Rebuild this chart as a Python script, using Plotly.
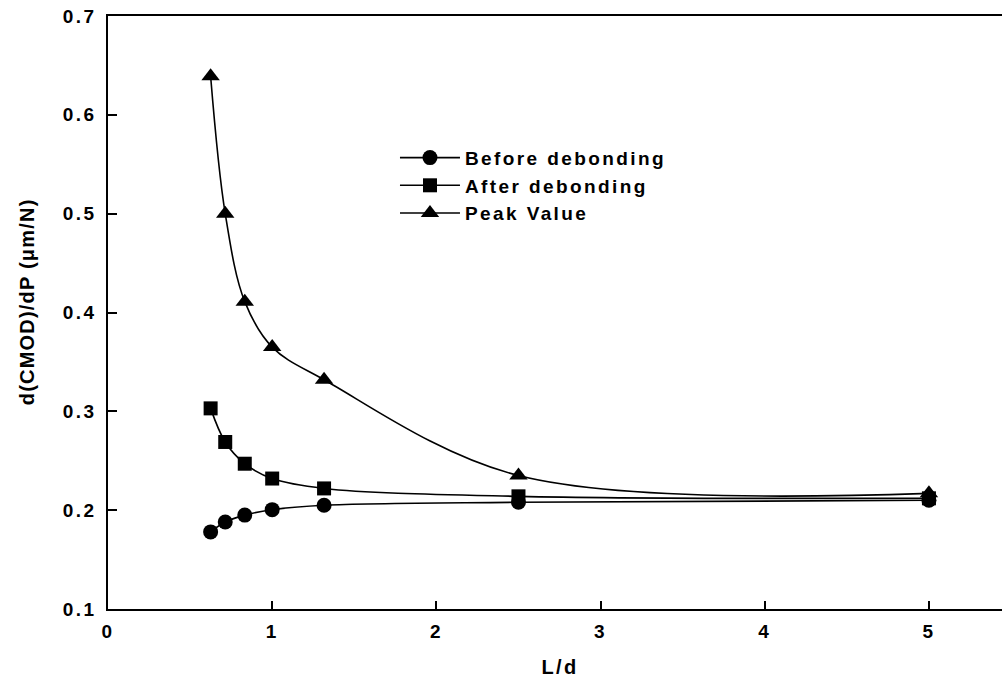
import plotly.graph_objects as go

# Slenderness ratio L/d and compliance values
ld_ratio = [0.625, 0.714, 0.833, 1.0, 1.316, 2.5, 5.0]
before_debonding = [0.178, 0.188, 0.195, 0.2005, 0.205, 0.208, 0.210]
after_debonding = [0.303, 0.269, 0.247, 0.232, 0.222, 0.214, 0.212]
peak_value = [0.639, 0.500, 0.411, 0.365, 0.332, 0.235, 0.217]

x_ticks = [0, 1, 2, 3, 4, 5]
y_ticks = [0.1, 0.2, 0.3, 0.4, 0.5, 0.6, 0.7]

FONT = "Liberation Sans, Arial, Helvetica, sans-serif"

series = [
    ("Before debonding", before_debonding, "circle", 15),
    ("After debonding", after_debonding, "square", 14),
    ("Peak Value", peak_value, "triangle-up", 16),
]

fig = go.Figure()
for name, vals, sym, size in series:
    fig.add_trace(go.Scatter(
        x=ld_ratio, y=vals, name=name, mode="lines+markers",
        line=dict(color="black", width=1.6, shape="spline", smoothing=1),
        marker=dict(symbol=sym, size=size, color="black"),
    ))

axis_font = dict(family=FONT, size=19, color="black", weight="bold")

fig.update_layout(
    width=1002, height=689,
    margin=dict(l=108, r=0, t=16, b=80),
    plot_bgcolor="white", paper_bgcolor="white",
    showlegend=True,
    legend=dict(
        x=0.321, y=0.793, xanchor="left", yanchor="top",
        font=dict(family=FONT, size=19, color="black", weight="bold"),
        bgcolor="rgba(0,0,0,0)", itemwidth=60, tracegroupgap=0,
    ),
    xaxis=dict(
        range=[0, 5.445], tickvals=x_ticks, ticktext=[str(v) for v in x_ticks],
        ticks="inside", ticklen=8, tickwidth=1.5, tickcolor="black",
        showline=True, linecolor="black", linewidth=1.5, mirror=True,
        showgrid=False, zeroline=False, tickfont=axis_font, ticklabelstandoff=4,
    ),
    yaxis=dict(
        range=[0.1, 0.7], tickvals=y_ticks, ticktext=[f"{v:.1f}" for v in y_ticks],
        ticks="inside", ticklen=9, tickwidth=1.5, tickcolor="black",
        showline=True, linecolor="black", linewidth=1.5, mirror=False,
        showgrid=False, zeroline=False, tickfont=axis_font, ticklabelstandoff=6,
    ),
    annotations=[
        dict(text="L/d", xref="x", yref="paper", x=2.75, y=(609 - 667) / 593,
             xanchor="center", yanchor="middle", showarrow=False,
             font=dict(family=FONT, size=20, color="black", weight="bold")),
        dict(text="d(CMOD)/dP (\u03bcm/N)", xref="paper", yref="paper",
             x=(27 - 108) / 894, y=(609 - 302) / 593, textangle=-90,
             xanchor="center", yanchor="middle", showarrow=False,
             font=dict(family=FONT, size=20, color="black", weight="bold")),
    ],
)

# Wider letter spacing for chart text; let the legend text overflow its box
spacing_js = """
var s = document.createElement('style');
s.textContent = 'svg text{letter-spacing:2.4px;}'
  + ' svg text[data-unformatted^="d(CMOD)"]{letter-spacing:1.2px;}';
document.head.appendChild(s);
var gd = document.getElementById('{plot_id}');
gd.querySelectorAll('.legend [clip-path], .legend[clip-path]').forEach(function (el) {
  el.removeAttribute('clip-path');
});
"""

fig.write_html("out.html", post_script=spacing_js)
